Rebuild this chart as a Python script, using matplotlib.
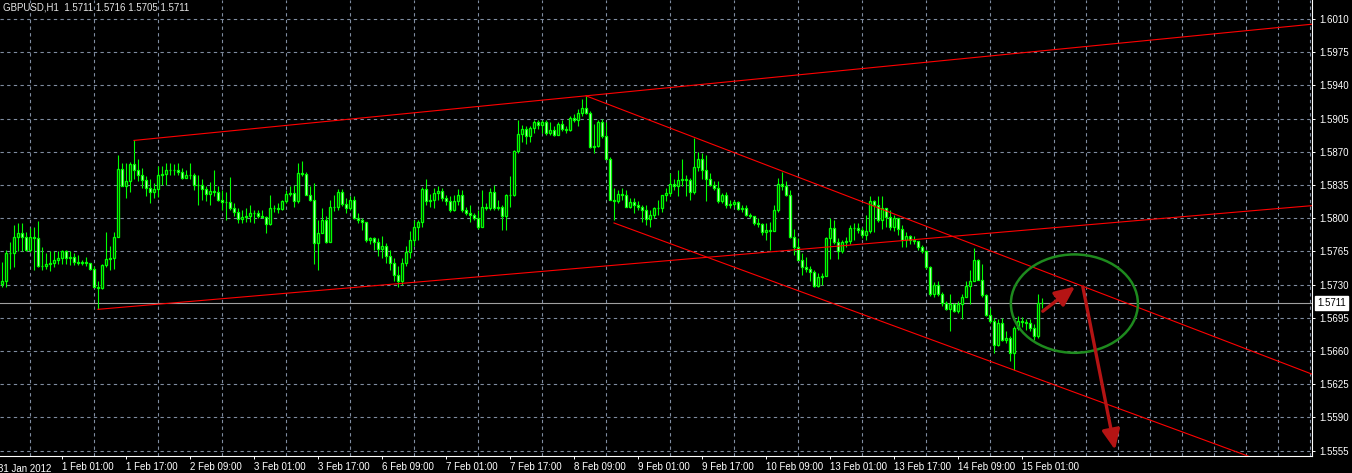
import numpy as np
import matplotlib
matplotlib.use("Agg")
import matplotlib.pyplot as plt
import matplotlib.transforms as mtransforms
from matplotlib.patches import Ellipse

plt.rcParams['font.family'] = ['Liberation Sans', 'DejaVu Sans']

# GBPUSD H1, 31 Jan 2012 10:00 .. 15 Feb 2012 06:00 (one entry per hourly bar)
first_open = 1.5731
closes = [
    1.5734, 1.5763, 1.5763, 1.5780, 1.5784, 1.5780, 1.5766, 1.5780, 1.5779, 1.5750,
    1.5750, 1.5752, 1.5753, 1.5756, 1.5758, 1.5765, 1.5758, 1.5759, 1.5754, 1.5753,
    1.5754, 1.5753, 1.5746, 1.5728, 1.5726, 1.5751, 1.5757, 1.5758, 1.5780, 1.5852,
    1.5834, 1.5839, 1.5857, 1.5851, 1.5846, 1.5840, 1.5832, 1.5828, 1.5831, 1.5846,
    1.5847, 1.5851, 1.5851, 1.5851, 1.5849, 1.5842, 1.5846, 1.5846, 1.5835, 1.5835,
    1.5831, 1.5826, 1.5829, 1.5828, 1.5819, 1.5817, 1.5817, 1.5811, 1.5807, 1.5799,
    1.5801, 1.5802, 1.5805, 1.5805, 1.5802, 1.5801, 1.5794, 1.5811, 1.5811, 1.5810,
    1.5818, 1.5826, 1.5827, 1.5818, 1.5848, 1.5847, 1.5825, 1.5819, 1.5774, 1.5784,
    1.5798, 1.5775, 1.5812, 1.5812, 1.5828, 1.5815, 1.5811, 1.5819, 1.5800, 1.5798,
    1.5796, 1.5777, 1.5779, 1.5775, 1.5768, 1.5771, 1.5760, 1.5753, 1.5740, 1.5734,
    1.5753, 1.5764, 1.5777, 1.5791, 1.5796, 1.5831, 1.5818, 1.5819, 1.5827, 1.5829,
    1.5821, 1.5818, 1.5809, 1.5818, 1.5825, 1.5809, 1.5805, 1.5803, 1.5800, 1.5791,
    1.5812, 1.5811, 1.5828, 1.5811, 1.5812, 1.5802, 1.5825, 1.5824, 1.5871, 1.5889,
    1.5894, 1.5887, 1.5895, 1.5901, 1.5898, 1.5901, 1.5890, 1.5893, 1.5888, 1.5899,
    1.5894, 1.5893, 1.5906, 1.5904, 1.5911, 1.5916, 1.5911, 1.5875, 1.5876, 1.5901,
    1.5887, 1.5862, 1.5819, 1.5818, 1.5826, 1.5824, 1.5812, 1.5817, 1.5814, 1.5812,
    1.5809, 1.5799, 1.5803, 1.5811, 1.5811, 1.5824, 1.5827, 1.5836, 1.5834, 1.5840,
    1.5841, 1.5840, 1.5828, 1.5854, 1.5862, 1.5851, 1.5841, 1.5835, 1.5832, 1.5818,
    1.5825, 1.5814, 1.5815, 1.5817, 1.5810, 1.5811, 1.5803, 1.5802, 1.5795, 1.5794,
    1.5786, 1.5788, 1.5787, 1.5809, 1.5836, 1.5834, 1.5825, 1.5780, 1.5770, 1.5756,
    1.5749, 1.5746, 1.5743, 1.5729, 1.5738, 1.5739, 1.5779, 1.5790, 1.5775, 1.5765,
    1.5775, 1.5776, 1.5790, 1.5790, 1.5788, 1.5782, 1.5787, 1.5818, 1.5814, 1.5798,
    1.5811, 1.5801, 1.5791, 1.5800, 1.5789, 1.5777, 1.5781, 1.5777, 1.5776, 1.5770,
    1.5765, 1.5749, 1.5720, 1.5730, 1.5720, 1.5711, 1.5704, 1.5710, 1.5702, 1.5710,
    1.5717, 1.5729, 1.5734, 1.5756, 1.5735, 1.5719, 1.5698, 1.5692, 1.5666, 1.5690,
    1.5672, 1.5674, 1.5658, 1.5684, 1.5692, 1.5691, 1.5690, 1.5684, 1.5676, 1.5711,
    1.5711,
]
highs = [
    1.5754, 1.5766, 1.5775, 1.5793, 1.5795, 1.5795, 1.5785, 1.5790, 1.5791, 1.5797,
    1.5770, 1.5763, 1.5765, 1.5765, 1.5765, 1.5766, 1.5766, 1.5765, 1.5763, 1.5761,
    1.5756, 1.5759, 1.5753, 1.5750, 1.5734, 1.5752, 1.5786, 1.5771, 1.5786, 1.5867,
    1.5858, 1.5858, 1.5859, 1.5882, 1.5862, 1.5853, 1.5844, 1.5841, 1.5837, 1.5855,
    1.5855, 1.5858, 1.5858, 1.5857, 1.5858, 1.5853, 1.5851, 1.5858, 1.5848, 1.5846,
    1.5841, 1.5834, 1.5838, 1.5851, 1.5834, 1.5830, 1.5828, 1.5843, 1.5816, 1.5811,
    1.5809, 1.5811, 1.5814, 1.5809, 1.5809, 1.5809, 1.5802, 1.5824, 1.5814, 1.5816,
    1.5819, 1.5830, 1.5834, 1.5835, 1.5858, 1.5860, 1.5849, 1.5834, 1.5837, 1.5798,
    1.5811, 1.5802, 1.5819, 1.5825, 1.5831, 1.5831, 1.5821, 1.5823, 1.5823, 1.5805,
    1.5800, 1.5796, 1.5780, 1.5780, 1.5779, 1.5781, 1.5774, 1.5766, 1.5758, 1.5750,
    1.5758, 1.5771, 1.5787, 1.5798, 1.5798, 1.5833, 1.5841, 1.5826, 1.5832, 1.5834,
    1.5832, 1.5825, 1.5823, 1.5824, 1.5831, 1.5830, 1.5812, 1.5814, 1.5805, 1.5809,
    1.5830, 1.5816, 1.5832, 1.5835, 1.5819, 1.5814, 1.5826, 1.5844, 1.5872, 1.5904,
    1.5898, 1.5897, 1.5897, 1.5903, 1.5903, 1.5904, 1.5903, 1.5901, 1.5897, 1.5901,
    1.5904, 1.5897, 1.5908, 1.5910, 1.5915, 1.5926, 1.5929, 1.5913, 1.5899, 1.5903,
    1.5905, 1.5901, 1.5865, 1.5832, 1.5830, 1.5832, 1.5830, 1.5821, 1.5821, 1.5818,
    1.5814, 1.5814, 1.5809, 1.5812, 1.5819, 1.5825, 1.5832, 1.5848, 1.5841, 1.5851,
    1.5862, 1.5846, 1.5842, 1.5885, 1.5870, 1.5869, 1.5867, 1.5848, 1.5839, 1.5839,
    1.5827, 1.5828, 1.5819, 1.5819, 1.5818, 1.5814, 1.5814, 1.5805, 1.5802, 1.5800,
    1.5795, 1.5795, 1.5796, 1.5814, 1.5842, 1.5849, 1.5839, 1.5830, 1.5789, 1.5779,
    1.5763, 1.5759, 1.5750, 1.5745, 1.5742, 1.5742, 1.5780, 1.5800, 1.5798, 1.5779,
    1.5777, 1.5780, 1.5793, 1.5795, 1.5795, 1.5791, 1.5803, 1.5823, 1.5819, 1.5823,
    1.5823, 1.5809, 1.5809, 1.5803, 1.5798, 1.5793, 1.5786, 1.5782, 1.5781, 1.5773,
    1.5772, 1.5766, 1.5750, 1.5733, 1.5734, 1.5722, 1.5713, 1.5720, 1.5711, 1.5713,
    1.5720, 1.5734, 1.5745, 1.5769, 1.5757, 1.5752, 1.5720, 1.5705, 1.5695, 1.5694,
    1.5695, 1.5681, 1.5676, 1.5686, 1.5697, 1.5696, 1.5694, 1.5694, 1.5689, 1.5720,
    1.5716,
]
lows = [
    1.5727, 1.5728, 1.5747, 1.5749, 1.5765, 1.5765, 1.5765, 1.5764, 1.5745, 1.5749,
    1.5745, 1.5747, 1.5744, 1.5749, 1.5752, 1.5752, 1.5752, 1.5751, 1.5751, 1.5751,
    1.5751, 1.5750, 1.5745, 1.5727, 1.5704, 1.5725, 1.5749, 1.5745, 1.5746, 1.5780,
    1.5834, 1.5821, 1.5828, 1.5841, 1.5839, 1.5832, 1.5823, 1.5816, 1.5821, 1.5822,
    1.5835, 1.5835, 1.5846, 1.5846, 1.5846, 1.5841, 1.5842, 1.5841, 1.5830, 1.5814,
    1.5819, 1.5818, 1.5814, 1.5823, 1.5818, 1.5809, 1.5798, 1.5809, 1.5802, 1.5795,
    1.5795, 1.5796, 1.5796, 1.5795, 1.5800, 1.5800, 1.5784, 1.5793, 1.5807, 1.5806,
    1.5809, 1.5816, 1.5823, 1.5812, 1.5816, 1.5844, 1.5824, 1.5818, 1.5752, 1.5745,
    1.5784, 1.5774, 1.5775, 1.5808, 1.5809, 1.5813, 1.5805, 1.5809, 1.5799, 1.5795,
    1.5788, 1.5775, 1.5773, 1.5766, 1.5760, 1.5758, 1.5753, 1.5745, 1.5734, 1.5728,
    1.5730, 1.5750, 1.5758, 1.5771, 1.5777, 1.5791, 1.5814, 1.5812, 1.5811, 1.5819,
    1.5818, 1.5814, 1.5807, 1.5808, 1.5814, 1.5807, 1.5803, 1.5796, 1.5798, 1.5789,
    1.5791, 1.5809, 1.5809, 1.5809, 1.5809, 1.5788, 1.5788, 1.5812, 1.5823, 1.5869,
    1.5880, 1.5878, 1.5880, 1.5890, 1.5894, 1.5890, 1.5888, 1.5888, 1.5887, 1.5888,
    1.5892, 1.5890, 1.5892, 1.5901, 1.5897, 1.5908, 1.5910, 1.5874, 1.5869, 1.5875,
    1.5885, 1.5862, 1.5819, 1.5798, 1.5816, 1.5819, 1.5812, 1.5811, 1.5805, 1.5809,
    1.5796, 1.5793, 1.5791, 1.5800, 1.5803, 1.5807, 1.5818, 1.5823, 1.5830, 1.5823,
    1.5834, 1.5823, 1.5819, 1.5826, 1.5850, 1.5841, 1.5818, 1.5834, 1.5830, 1.5816,
    1.5816, 1.5811, 1.5811, 1.5812, 1.5809, 1.5807, 1.5802, 1.5800, 1.5793, 1.5791,
    1.5782, 1.5777, 1.5766, 1.5787, 1.5807, 1.5830, 1.5823, 1.5779, 1.5761, 1.5756,
    1.5740, 1.5743, 1.5734, 1.5728, 1.5728, 1.5730, 1.5766, 1.5757, 1.5773, 1.5757,
    1.5763, 1.5770, 1.5773, 1.5777, 1.5784, 1.5779, 1.5777, 1.5784, 1.5785, 1.5796,
    1.5789, 1.5791, 1.5788, 1.5787, 1.5782, 1.5770, 1.5770, 1.5773, 1.5773, 1.5766,
    1.5763, 1.5747, 1.5718, 1.5717, 1.5718, 1.5708, 1.5703, 1.5681, 1.5701, 1.5700,
    1.5694, 1.5717, 1.5710, 1.5734, 1.5735, 1.5717, 1.5697, 1.5690, 1.5658, 1.5665,
    1.5671, 1.5669, 1.5649, 1.5640, 1.5682, 1.5685, 1.5682, 1.5681, 1.5672, 1.5674,
    1.5705,
]

first_label = "31 Jan 2012"
time_labels = ["1 Feb 01:00", "1 Feb 17:00", "2 Feb 09:00", "3 Feb 01:00", "3 Feb 17:00",
               "6 Feb 09:00", "7 Feb 01:00", "7 Feb 17:00", "8 Feb 09:00", "9 Feb 01:00",
               "9 Feb 17:00", "10 Feb 09:00", "13 Feb 01:00", "13 Feb 17:00", "14 Feb 09:00",
               "15 Feb 01:00"]
title = "GBPUSD,H1  1.5711 1.5716 1.5705 1.5711"
last_price = 1.5711

# trend lines drawn on the chart: (bar, price) anchors, extended to the right
trend_lines = {
    "up_high": [(33, 1.5882), (146, 1.5929)],
    "up_low": [(24, 1.5704), (99, 1.5731)],
    "down_high": [(146, 1.5929), (294.5, 1.5689)],
    "down_low": [(153, 1.5795), (253, 1.5640)],
}
circle = (268.1, 1.5710, 31.75, 0.01037)   # centre bar, centre price, width, height
arrows = [[(260.2, 1.5702), (268.25, 1.5728)],
          [(270.2, 1.5728), (278.25, 1.5556)]]

closes = np.array(closes)
highs = np.array(highs)
lows = np.array(lows)
opens = np.concatenate([[first_open], closes[:-1]])
highs = np.maximum(highs, np.maximum(opens, closes))
lows = np.minimum(lows, np.minimum(opens, closes))
x = np.arange(len(closes))

W, H = 1352, 473
fig = plt.figure(figsize=(W / 100, H / 100), dpi=100, facecolor="black")
ax = fig.add_axes([0, 17 / H, 1312 / W, 456 / H], facecolor="black")
x_right = 327.5
ax.set_xlim(-0.5, x_right)
ax.set_ylim(1.55494, 1.60300)

green = "#00ff00"
grid_c = "#7f8ca0"
fs = 7

# grid
ax.set_yticks(np.round(np.arange(1.5555, 1.6011, 0.0035), 4))
ax.yaxis.set_major_formatter(matplotlib.ticker.FormatStrFormatter("%.4f"))
ax.set_xticks([15 + 16 * k for k in range(len(time_labels))])
ax.set_xticklabels(time_labels)
ax.set_xticks(np.arange(7, 328, 8), minor=True)
ax.grid(axis="y", which="major", color=grid_c, lw=0.8, ls=(0, (3, 3)))
ax.grid(axis="x", which="minor", color=grid_c, lw=0.8, ls=(0, (3, 3)))
ax.set_axisbelow(True)

# candles
ax.vlines(x, lows, highs, color=green, lw=0.8, zorder=2)
bull = closes > opens
fills = np.where(bull, "black", "white")
ax.bar(x, np.abs(closes - opens), bottom=np.minimum(opens, closes), width=0.5,
       color=fills, edgecolor=green, linewidth=0.95, zorder=3)

# last price line + label
ax.axhline(last_price, color="#a0a0a0", lw=0.8, zorder=1)
tr = mtransforms.blended_transform_factory(ax.transAxes, ax.transData)
ax.text(1 + 5 / 1312, last_price, "%.4f" % last_price, transform=tr, ha="left", va="center",
        fontsize=fs, color="black", clip_on=False,
        bbox=dict(boxstyle="square,pad=0.2", fc="white", ec="white"))

# trend lines
for name, ((x1, y1), (x2, y2)) in trend_lines.items():
    slope = (y2 - y1) / (x2 - x1)
    ax.plot([x1, x_right + 1], [y1, y1 + slope * (x_right + 1 - x1)], color="red", lw=0.8, zorder=4)

# circle and arrows
cx, cy, cw, ch = circle
ax.add_patch(Ellipse((cx, cy), cw, ch, fill=False, ec="#1e8a1e", lw=1.8, zorder=5))
for (sx, sy), (ex, ey) in arrows:
    ax.annotate("", xy=(ex, ey), xytext=(sx, sy), zorder=6,
                arrowprops=dict(arrowstyle="-|>,head_length=1.0,head_width=0.45",
                                mutation_scale=12, color="#b51414", lw=2.4,
                                shrinkA=0, shrinkB=0))

# axes styling
for s in ["top", "left"]:
    ax.spines[s].set_visible(False)
for s in ["right", "bottom"]:
    ax.spines[s].set_color("white")
    ax.spines[s].set_linewidth(0.8)
ax.yaxis.tick_right()
ax.tick_params(axis="y", colors="white", labelsize=fs, length=2.5, width=0.7, pad=3)
ax.tick_params(axis="x", which="major", colors="white", labelsize=fs, length=2.5, width=0.7, pad=2)
ax.tick_params(axis="x", which="minor", length=0)
for lbl in ax.get_xticklabels():
    lbl.set_ha("left")

trx = mtransforms.blended_transform_factory(ax.transData, ax.transAxes)
ax.text(-1, -0.0175, first_label, transform=trx, ha="left", va="top", fontsize=fs,
        color="white", clip_on=False)

fig.text(3 / W, 1 - 3 / H, title, ha="left", va="top", fontsize=fs, color="#e6e6e6")

fig.savefig("out.png", dpi=100, facecolor="black")
